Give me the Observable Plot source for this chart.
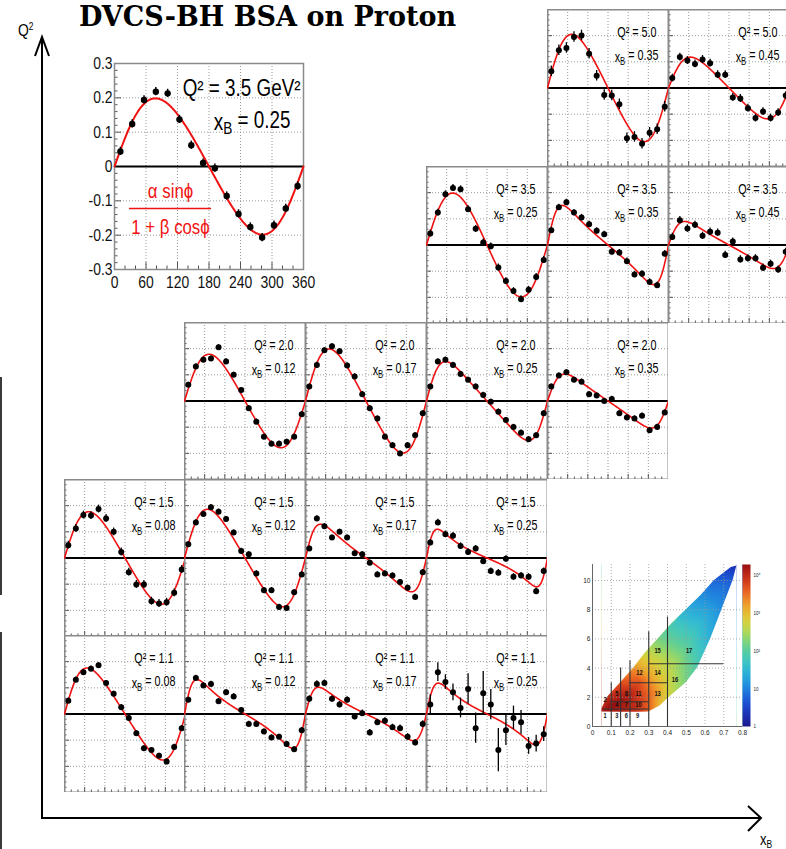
<!DOCTYPE html>
<html>
<head>
<meta charset="utf-8">
<script src="https://cdn.jsdelivr.net/npm/d3@7"></script>
<script src="https://cdn.jsdelivr.net/npm/@observablehq/plot@0.6"></script>
<style>
  body { margin: 0; background: #fff; }
  #root { position: relative; width: 786px; height: 849px; overflow: hidden; background: #fff; }
  .edgebar { position: absolute; left: 0; width: 2px; background: #3a3a3a; }
</style>
</head>
<body>
<div id="root"></div>
<script>
// ---------------- DATA ----------------
const phiBins = [11.25, 33.75, 56.25, 78.75, 101.25, 123.75, 146.25, 168.75,
                 191.25, 213.75, 236.25, 258.75, 281.25, 303.75, 326.25, 348.75];

const panelQ2  = ["5.0","5.0","3.5","3.5","3.5","2.0","2.0","2.0","2.0","1.5","1.5","1.5","1.5","1.1","1.1","1.1","1.1"];
const panelXB  = ["0.35","0.45","0.25","0.35","0.45","0.12","0.17","0.25","0.35","0.08","0.12","0.17","0.25","0.08","0.12","0.17","0.25"];
const panelCol = [4,5,3,4,5,1,2,3,4,0,1,2,3,0,1,2,3];
const panelRow = [0,0,1,1,1,2,2,2,2,3,3,3,3,4,4,4,4];

// fit  A = alpha sin(phi) / (1 + beta cos(phi))
const fitAlpha = [0.195,0.107,0.194,0.105,0.067,0.171,0.187,0.126,0.081,0.168,0.173,0.091,0.059,0.162,0.079,0.064,0.068];
const fitBeta  = [-0.31,-0.42,-0.21,-0.72,-0.668,-0.29,-0.34,-0.55,-0.62,-0.31,-0.37,-0.71,-0.844,-0.39,-0.80,-0.78,-0.817];

const bsa_Q50_x35 = [0.064,0.144,0.153,0.195,0.201,0.131,0.047,-0.027,-0.029,-0.062,-0.192,-0.187,-0.213,-0.171,-0.158,-0.072];
const bsa_Q50_x45 = [0.038,0.118,0.105,0.092,0.109,0.095,0.051,0.051,-0.036,-0.040,-0.077,-0.115,-0.090,-0.115,-0.094,-0.029];
const bsa_Q35_x25 = [0.044,0.124,0.194,0.218,0.213,0.137,0.062,0.010,-0.005,-0.086,-0.138,-0.176,-0.207,-0.171,-0.122,-0.057];
const bsa_Q35_x35 = [0.056,0.144,0.163,0.124,0.105,0.079,0.054,0.041,-0.026,-0.029,-0.062,-0.113,-0.110,-0.141,-0.154,-0.033];
const bsa_Q35_x45 = [0.031,0.095,0.063,0.077,0.035,0.051,0.047,-0.038,0.013,-0.055,-0.051,-0.051,-0.087,-0.072,-0.094,-0.026];
const bsa_Q20_x12 = [0.062,0.132,0.158,0.162,0.205,0.151,0.100,0.042,-0.028,-0.079,-0.137,-0.163,-0.163,-0.156,-0.137,-0.051];
const bsa_Q20_x17 = [0.055,0.138,0.194,0.209,0.190,0.136,0.094,0.026,-0.028,-0.067,-0.137,-0.169,-0.201,-0.169,-0.131,-0.047];
const bsa_Q20_x25 = [0.055,0.151,0.158,0.138,0.103,0.081,0.055,0.023,-0.003,-0.041,-0.073,-0.099,-0.121,-0.146,-0.131,-0.047];
const bsa_Q20_x35 = [0.055,0.097,0.110,0.081,0.074,0.026,0.021,0.000,0.008,-0.047,-0.063,-0.067,-0.056,-0.112,-0.099,-0.044];
const bsa_Q15_x08 = [0.049,0.113,0.164,0.162,0.187,0.151,0.100,0.023,-0.054,-0.101,-0.101,-0.165,-0.174,-0.169,-0.133,-0.044];
const bsa_Q15_x12 = [0.053,0.136,0.168,0.194,0.177,0.149,0.097,0.027,0.014,-0.059,-0.123,-0.123,-0.187,-0.191,-0.131,-0.063];
const bsa_Q15_x17 = [0.036,0.151,0.121,0.078,0.100,0.078,0.018,0.014,-0.018,-0.063,-0.059,-0.067,-0.092,-0.114,-0.149,-0.054];
const bsa_Q15_x25 = [0.059,0.136,0.091,0.085,0.046,0.023,0.036,-0.012,-0.050,-0.056,-0.003,-0.072,-0.067,-0.072,-0.127,-0.050];
const bsa_Q11_x08 = [0.051,0.131,0.160,0.173,0.186,0.118,0.077,0.026,-0.015,-0.074,-0.131,-0.138,-0.160,-0.182,-0.126,-0.054];
const bsa_Q11_x12 = [0.054,0.138,0.109,0.115,0.049,0.083,0.067,0.015,-0.038,-0.038,-0.067,-0.090,-0.087,-0.115,-0.135,-0.062];
const bsa_Q11_x17 = [0.058,0.115,0.118,0.058,0.036,0.054,-0.010,0.003,-0.071,-0.032,-0.026,-0.051,-0.054,-0.087,-0.109,-0.038];
const bsa_Q11_x25 = [0.036,0.160,0.122,0.083,0.023,0.096,-0.054,0.079,0.036,-0.138,-0.062,-0.015,-0.032,-0.122,-0.113,-0.077];
const err_Q11_x25 = [0.038,0.036,0.028,0.032,0.038,0.058,0.058,0.083,0.058,0.083,0.058,0.045,0.045,0.032,0.032,0.028];

const panelValues = [bsa_Q50_x35, bsa_Q50_x45, bsa_Q35_x25, bsa_Q35_x35, bsa_Q35_x45,
                     bsa_Q20_x12, bsa_Q20_x17, bsa_Q20_x25, bsa_Q20_x35,
                     bsa_Q15_x08, bsa_Q15_x12, bsa_Q15_x17, bsa_Q15_x25,
                     bsa_Q11_x08, bsa_Q11_x12, bsa_Q11_x17, bsa_Q11_x25];
const panelErrs = [0.02,0.015,0.013,0.012,0.014,0.01,0.01,0.01,0.01,0.015,0.01,0.01,0.012,0.01,0.01,0.012, err_Q11_x25];

// inset (Q2 = 3.5, xB = 0.25) uses bsa_Q35_x25 with fit index 2
const insetErr = 0.012;
const insetYTicks = [-0.3,-0.2,-0.1,0,0.1,0.2,0.3];
const insetXTicks = [0,60,120,180,240,300,360];

// kinematic coverage map (x_B, Q2, log10 counts)
const heatUpX   = [0.05,0.08,0.15,0.22,0.28,0.35,0.42,0.50,0.58,0.65,0.74,0.77];
const heatUpQ2  = [1.2,2.0,3.0,4.0,5.0,6.0,7.0,8.0,9.0,10.0,10.9,11.0];
const heatUpLog = [4.1,4.0,3.7,3.3,2.7,2.2,1.8,1.4,1.1,0.8,0.4,0.3];
const heatLoX   = [0.05,0.15,0.25,0.30,0.36,0.41,0.50,0.56,0.63,0.69,0.75];
const heatLoQ2  = [1.0,0.98,0.98,1.0,1.4,2.0,3.0,4.0,6.0,8.0,10.0];
const heatLoLog = [4.2,4.1,3.9,3.6,3.0,2.7,2.2,1.9,1.4,1.1,0.7];
const heatInX   = [0.10,0.15,0.20,0.12,0.25,0.30,0.30,0.35,0.40,0.35,0.45,0.45,0.50,0.55,0.60,0.65,0.70];
const heatInQ2  = [1.4,1.8,2.2,2.2,3.0,2.0,3.5,2.5,3.5,4.5,4.5,5.5,5.5,6.5,7.5,8.5,9.5];
const heatInLog = [4.3,4.25,4.1,4.0,3.7,3.6,3.2,3.2,2.7,2.7,2.4,2.1,2.0,1.7,1.4,1.1,0.9];
const heatXTicks = [0,0.1,0.2,0.3,0.4,0.5,0.6,0.7,0.8];
const heatYTicks = [0,2,4,6,8,10];
const binVX    = [0.1,0.15,0.2,0.3,0.4];
const binVTop  = [3.0,4.0,4.5,6.5,7.5];
const binHY    = [1.2,1.7,3.0,4.3];
const binHX1   = [0.057,0.1,0.2,0.3];
const binHX2   = [0.3,0.3,0.4,0.7];
const binLabel = ["1","2","3","4","5","6","7","8","9","10","11","12","13","14","15","16","17"];
const binLabX  = [0.067,0.067,0.13,0.13,0.13,0.18,0.18,0.18,0.24,0.245,0.245,0.25,0.347,0.347,0.347,0.44,0.515];
const binLabQ2 = [0.71,1.81,0.71,1.47,2.27,0.71,1.47,2.27,0.71,1.47,2.27,3.7,2.27,3.7,5.2,3.2,5.2];
const cbarTicks  = [0,1,2,3,4];
const cbarLabels = ["1","10","10²","10³","10⁴"];

// ---------------- LAYOUT / STYLE ----------------
const rootFont = "'Liberation Sans', Arial, sans-serif";
const NARROW = 0.82;
const PW = 121, PH = 157;
const col0 = 63.5, colStep = 120.8, row0 = 9, rowStep = 156.6;
const gridStyle = {stroke: "#9a9a9a", strokeOpacity: 1, strokeDasharray: "1,2", strokeWidth: 1};
const rootPalette = d3.interpolateRgbBasis(["#1b1a8a","#1c3fd4","#1f8fe2","#33c6d6","#63d08b","#d9e13b","#f3a52b","#e6411e","#961010"]);

const root = document.getElementById("root");
function place(svg, left, top) {
  svg.style.position = "absolute";
  svg.style.left = left + "px";
  svg.style.top = top + "px";
  svg.style.overflow = "hidden";
  svg.style.background = "transparent";
  svg.style.maxWidth = "none";
  root.appendChild(svg);
  return svg;
}
// horizontal condensing about each text's anchor point (narrow Helvetica look)
function condense(node, s = NARROW) {
  d3.select(node).selectAll("text").each(function () {
    const x = +this.getAttribute("x") || 0, y = +this.getAttribute("y") || 0;
    const tr = this.getAttribute("transform") || "";
    this.setAttribute("transform", `${tr} translate(${x},${y}) scale(${s},1) translate(${-x},${-y})`);
  });
}
function subscriptB(svg) {
  d3.select(svg).selectAll("text").each(function () {
    const t = this.textContent;
    if (t.startsWith("x_B")) {
      const rest = t.slice(3);
      const sel = d3.select(this);
      sel.text(null);
      sel.append("tspan").text("x");
      sel.append("tspan").attr("dy", "0.3em").attr("font-size", "72%").text("B");
      sel.append("tspan").attr("dy", "-0.3em").text(rest);
    }
  });
}
function fitCurve(alpha, beta) {
  return d3.range(0, 360.01, 2).map(phi => {
    const r = phi * Math.PI / 180;
    return {phi, a: alpha * Math.sin(r) / (1 + beta * Math.cos(r))};
  });
}
function frameTicks(w, h, majPx, minPx, color) {
  const degPx = 360 / w, valPx = 0.6 / h;
  const xt = d3.range(0, 361, 20);
  const yt = d3.range(-15, 16).map(k => k * 0.02);
  return [
    Plot.ruleX(xt, {x: d => d, y1: -0.3, y2: d => -0.3 + (d % 60 === 0 ? majPx : minPx) * valPx, stroke: color, strokeWidth: 1}),
    Plot.ruleY(yt, {y: d => d, x1: 0, x2: d => (Math.round(Math.abs(d) * 50) % 5 === 0 ? majPx : minPx) * degPx, stroke: color, strokeWidth: 1})
  ];
}

// ---------------- DECORATION (global axes, title) ----------------
const deco = d3.create("svg").attr("width", 786).attr("height", 849)
  .style("position", "absolute").style("left", "0px").style("top", "0px");
const g = deco.append("g").attr("fill", "none").attr("stroke", "#000").attr("stroke-width", 2);
g.append("polyline").attr("points", "42,37 42,818 761,818");
g.append("polyline").attr("points", "35,56 42,37 49,56");
g.append("polyline").attr("points", "748,806 761,818 748,831");
deco.append("text").attr("x", 267.5).attr("y", 26).attr("text-anchor", "middle")
  .attr("font-family", "'DejaVu Serif', serif").attr("font-weight", "bold").attr("font-size", 27)
  .text("DVCS-BH BSA on Proton");
const labels = deco.append("g").attr("font-family", rootFont);
const ql = labels.append("text").attr("x", 18).attr("y", 36).attr("font-size", 17);
ql.append("tspan").text("Q");
ql.append("tspan").attr("dy", "-0.55em").attr("font-size", "60%").text("2");
const xl = labels.append("text").attr("x", 760).attr("y", 845).attr("font-size", 16);
xl.append("tspan").text("x");
xl.append("tspan").attr("dy", "0.3em").attr("font-size", "65%").text("B");
condense(labels.node());
root.appendChild(deco.node());

// edge remnants on the left border
[[377, 218], [632, 217]].forEach(([t, h]) => {
  const d = document.createElement("div");
  d.className = "edgebar"; d.style.top = t + "px"; d.style.height = h + "px";
  root.appendChild(d);
});

// ---------------- SMALL PANELS ----------------
panelValues.forEach((vals, i) => {
  const errs = panelErrs[i];
  const pts = phiBins.map((phi, j) => ({phi, a: vals[j], e: Array.isArray(errs) ? errs[j] : errs}));
  const svg = Plot.plot({
    width: PW, height: PH, margin: 0,
    x: {domain: [0, 360], axis: null},
    y: {domain: [-0.3, 0.3], axis: null},
    marks: [
      Plot.gridX({ticks: [60, 120, 180, 240, 300], ...gridStyle}),
      Plot.gridY({ticks: [-0.2, -0.1, 0.1, 0.2], ...gridStyle}),
      ...frameTicks(PW, PH, 5, 2.5, "#555"),
      Plot.ruleY([0], {stroke: "#000", strokeWidth: 2}),
      Plot.frame({stroke: "#8a8a8a", strokeWidth: 2}),
      Plot.line(fitCurve(fitAlpha[i], fitBeta[i]), {x: "phi", y: "a", stroke: "#f01212", strokeWidth: 1.6}),
      Plot.ruleX(pts, {x: "phi", y1: d => d.a - d.e, y2: d => d.a + d.e, stroke: "#000", strokeWidth: 1.3}),
      Plot.dot(pts, {x: "phi", y: "a", r: 3, fill: "#000", stroke: null}),
      Plot.text([`Q² = ${panelQ2[i]}`], {text: d => d, frameAnchor: "top-right", dx: -12, dy: 27, lineAnchor: "bottom", textAnchor: "end", fontSize: 14, fontFamily: rootFont, fill: "#000"}),
      Plot.text([`x_B = ${panelXB[i]}`], {text: d => d, frameAnchor: "top-right", dx: -10, dy: 52, lineAnchor: "bottom", textAnchor: "end", fontSize: 14, fontFamily: rootFont, fill: "#000"})
    ]
  });
  subscriptB(svg);
  condense(svg, 0.77);
  place(svg, col0 + panelCol[i] * colStep, row0 + panelRow[i] * rowStep);
});

// ---------------- INSET (Q2 = 3.5, xB = 0.25) ----------------
{
  const W = 247, H = 246, mL = 40, mT = 14, mR = 18, mB = 26;
  const pts = phiBins.map((phi, j) => ({phi, a: bsa_Q35_x25[j], e: insetErr}));
  const fmt = d => d === 0 ? "0" : (d < 0 ? "-" : "") + Math.abs(d).toFixed(1);
  const svg = Plot.plot({
    width: W, height: H, marginLeft: mL, marginTop: mT, marginRight: mR, marginBottom: mB,
    x: {domain: [0, 360]},
    y: {domain: [-0.3, 0.3]},
    style: {fontFamily: rootFont},
    marks: [
      Plot.gridX({ticks: [60, 120, 180, 240, 300], ...gridStyle}),
      Plot.gridY({ticks: [-0.2, -0.1, 0.1, 0.2], ...gridStyle}),
      ...frameTicks(W - mL - mR, H - mT - mB, 7, 3.5, "#555"),
      Plot.axisY({ticks: insetYTicks, tickSize: 0, tickPadding: 2, tickFormat: fmt, fontSize: 17, fill: "#111", label: null}),
      Plot.axisX({ticks: insetXTicks, tickSize: 0, tickPadding: 6, tickFormat: d => String(d), fontSize: 17, fill: "#111", label: null}),
      Plot.ruleY([0], {stroke: "#000", strokeWidth: 2}),
      Plot.frame({stroke: "#8a8a8a", strokeWidth: 1.5}),
      Plot.line(fitCurve(fitAlpha[2], fitBeta[2]), {x: "phi", y: "a", stroke: "#f01212", strokeWidth: 2}),
      Plot.ruleX(pts, {x: "phi", y1: d => d.a - d.e, y2: d => d.a + d.e, stroke: "#000", strokeWidth: 1.5}),
      Plot.dot(pts, {x: "phi", y: "a", r: 3.2, fill: "#000", stroke: null}),
      Plot.text(["Q² = 3.5 GeV²"], {text: d => d, frameAnchor: "top-right", dx: -3, dy: 32, lineAnchor: "bottom", textAnchor: "end", fontSize: 23, fontFamily: rootFont, fill: "#000"}),
      Plot.text(["x_B = 0.25"], {text: d => d, frameAnchor: "top-right", dx: -13, dy: 66, lineAnchor: "bottom", textAnchor: "end", fontSize: 23, fontFamily: rootFont, fill: "#000"}),
      Plot.text(["α sinϕ"], {text: d => d, frameAnchor: "top-left", dx: 56, dy: 134, lineAnchor: "bottom", textAnchor: "middle", fontSize: 20.5, fontFamily: rootFont, fill: "#f01212"}),
      Plot.ruleY([-0.1224], {x1: 28.6, x2: 184.8, stroke: "#f01212", strokeWidth: 1.6}),
      Plot.text(["1 + β cosϕ"], {text: d => d, frameAnchor: "top-left", dx: 56, dy: 170, lineAnchor: "bottom", textAnchor: "middle", fontSize: 20.5, fontFamily: rootFont, fill: "#f01212"})
    ]
  });
  subscriptB(svg);
  condense(svg);
  place(svg, 74, 49);
}

// ---------------- KINEMATIC MAP ----------------
{
  const up = heatUpX.map((x, i) => ({x, q2: heatUpQ2[i], v: heatUpLog[i]}));
  const lo = heatLoX.map((x, i) => ({x, q2: heatLoQ2[i], v: heatLoLog[i]}));
  const inner = heatInX.map((x, i) => ({x, q2: heatInQ2[i], v: heatInLog[i]}));
  const all = [...up, ...lo, ...inner];
  const loClosed = [...lo, up[up.length - 1]];
  const svg = Plot.plot({
    width: 180, height: 185, marginLeft: 18, marginRight: 12, marginTop: 6, marginBottom: 17,
    x: {domain: [0, 0.8]},
    y: {domain: [0, 11.1]},
    color: {type: "linear", domain: [0, 4.29], interpolate: rootPalette},
    style: {fontFamily: rootFont},
    marks: [
      Plot.raster(all, {x: "x", y: "q2", fill: "v", interpolate: "barycentric"}),
      // blank everything outside the kinematic boundary
      Plot.areaY(up, {x: "x", y1: "q2", y2: 11.1, fill: "white", curve: "linear"}),
      Plot.areaY(loClosed, {x: "x", y1: 0, y2: "q2", fill: "white", curve: "linear"}),
      Plot.rect([0], {x1: 0, x2: heatUpX[0], y1: 0, y2: 11.1, fill: "white"}),
      Plot.rect([0], {x1: heatUpX[heatUpX.length - 1], x2: 0.8, y1: 0, y2: 11.1, fill: "white"}),
      Plot.gridX({ticks: heatXTicks.slice(1, -1), ...gridStyle, strokeOpacity: 0.8}),
      Plot.gridY({ticks: heatYTicks.slice(1), ...gridStyle, strokeOpacity: 0.8}),
      Plot.axisX({ticks: heatXTicks, tickSize: 0, tickPadding: 3, tickFormat: d => String(d), fontSize: 8, fill: "#222", label: null}),
      Plot.axisY({ticks: heatYTicks, tickSize: 0, tickPadding: 2, tickFormat: d => String(d), fontSize: 8, fill: "#222", label: null}),
      Plot.ruleX([0], {stroke: "#666"}),
      Plot.ruleY([0], {stroke: "#666"}),
      Plot.ruleX(binVX, {x: d => d, y1: 0, y2: (d, i) => binVTop[i], stroke: "#333", strokeWidth: 1.1}),
      Plot.ruleY(binHY, {y: d => d, x1: (d, i) => binHX1[i], x2: (d, i) => binHX2[i], stroke: "#333", strokeWidth: 1.1}),
      Plot.text(binLabel, {x: (d, i) => binLabX[i], y: (d, i) => binLabQ2[i], text: d => d, fontSize: 7, fontWeight: "bold", fill: "#111"})
    ]
  });
  condense(svg);
  place(svg, 574, 558);

  const cbar = Plot.plot({
    width: 44, height: 185, marginLeft: 2, marginRight: 34, marginTop: 6, marginBottom: 17,
    x: {domain: [0, 1], axis: null},
    y: {domain: [0, 4.29], axis: null},
    color: {type: "linear", domain: [0, 4.29], interpolate: rootPalette},
    style: {fontFamily: rootFont},
    marks: [
      Plot.raster({fill: (x, y) => y, x1: 0, x2: 1, y1: 0, y2: 4.29}),
      Plot.text(cbarTicks, {x: 1, y: d => d, text: (d, i) => cbarLabels[i], dx: 3, textAnchor: "start", fontSize: 5.5, fill: "#222"})
    ]
  });
  condense(cbar);
  place(cbar, 740, 558);
}
</script>
</body>
</html>
